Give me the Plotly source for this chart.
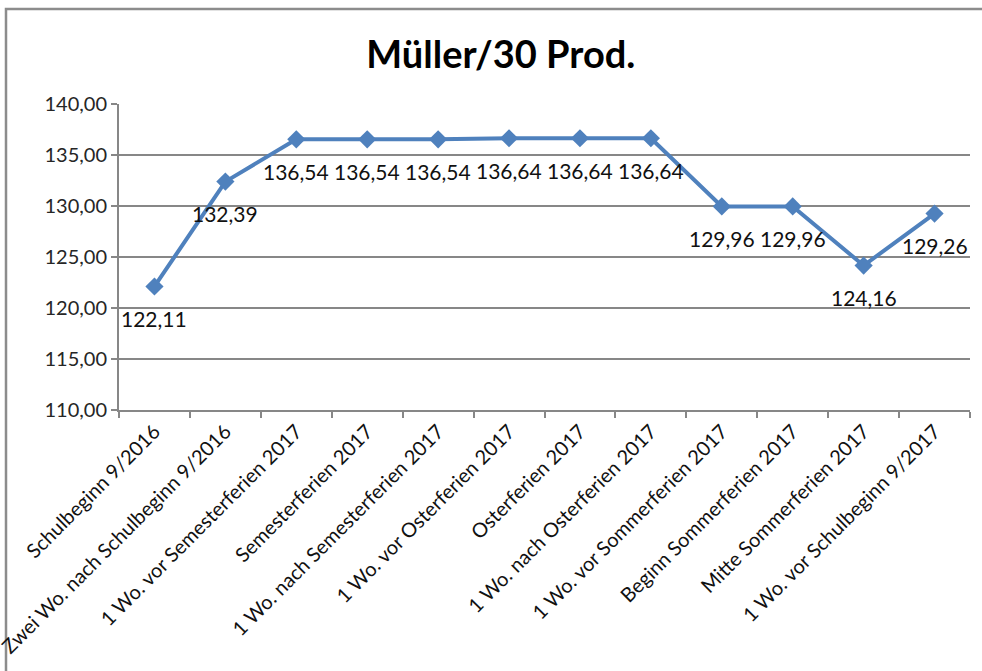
import plotly.graph_objects as go

categories = [
    "Schulbeginn 9/2016",
    "Zwei Wo. nach Schulbeginn 9/2016",
    "1 Wo. vor Semesterferien 2017",
    "Semesterferien 2017",
    "1 Wo. nach Semesterferien 2017",
    "1 Wo. vor Osterferien 2017",
    "Osterferien 2017",
    "1 Wo. nach Osterferien 2017",
    "1 Wo. vor Sommerferien 2017",
    "Beginn Sommerferien 2017",
    "Mitte Sommerferien 2017",
    "1 Wo. vor Schulbeginn 9/2017",
]
values = [122.11, 132.39, 136.54, 136.54, 136.54, 136.64, 136.64, 136.64,
          129.96, 129.96, 124.16, 129.26]
y_ticks = [110, 115, 120, 125, 130, 135, 140]

FONT = "Lato"
GRID = "#878787"
BLUE = "#4F81BD"

fig = go.Figure()
fig.add_trace(go.Scatter(
    x=categories, y=values, mode="lines+markers",
    line=dict(color=BLUE, width=4),
    marker=dict(symbol="diamond", size=14, color=BLUE),
    hoverinfo="skip", showlegend=False,
))

for c, v in zip(categories, values):
    fig.add_annotation(
        x=c, y=v, text=f"{v:.2f}".replace(".", ","), showarrow=False,
        yshift=-32, font=dict(family=FONT, size=21, color="#111111"),
    )

fig.update_layout(
    width=982, height=671,
    margin=dict(l=119, r=12, t=104, b=261, autoexpand=False),
    paper_bgcolor="white", plot_bgcolor="white",
    separators=",.",
    title=dict(text="<b>Müller/30 Prod.</b>", x=0.51, xanchor="center",
               y=1 - 55 / 671, yanchor="middle",
               font=dict(family=FONT, size=38, color="black")),
    xaxis=dict(
        type="category", range=[-0.5, 11.5], tickangle=-45, automargin=False,
        showline=True, linecolor=GRID, linewidth=2,
        ticks="outside", tickson="boundaries", ticklen=6, tickcolor=GRID, tickwidth=2,
        showgrid=False, tickfont=dict(family=FONT, size=20, color="#111111"),
    ),
    yaxis=dict(
        range=[110, 140], tickvals=y_ticks, tickformat=".2f", automargin=False,
        showline=True, linecolor=GRID, linewidth=2,
        ticks="outside", ticklen=6, tickcolor=GRID, tickwidth=2,
        showgrid=True, gridcolor=GRID, gridwidth=2, zeroline=False,
        tickfont=dict(family=FONT, size=20, color="#262626"),
    ),
    shapes=[dict(type="rect", xref="paper", yref="paper",
                 x0=-(119 - 6) / (982 - 131), x1=1.5,
                 y0=-2.0, y1=1 + (104 - 9) / (671 - 365),
                 line=dict(color="#8c8c8c", width=2.5), fillcolor="rgba(0,0,0,0)",
                 layer="below")],
)

fig.write_html(
    "out.html",
    config={"displayModeBar": False, "staticPlot": True},
    post_script="document.body.style.margin='0';document.body.style.overflow='hidden';",
)
